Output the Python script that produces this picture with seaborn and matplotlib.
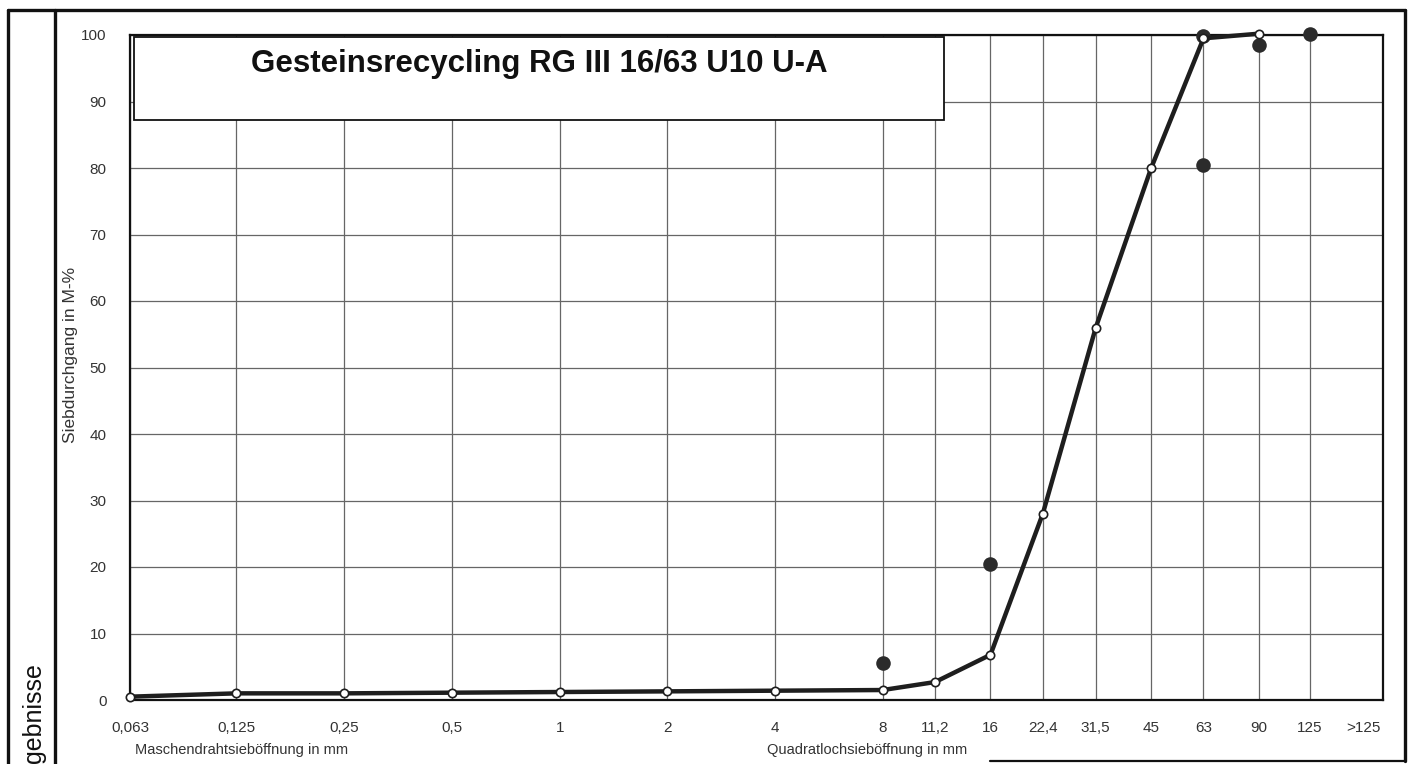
import numpy as np
import pandas as pd
import seaborn as sns
import matplotlib.pyplot as plt
from matplotlib.patches import Rectangle
from matplotlib.lines import Line2D
from matplotlib.ticker import NullLocator

# Siebweiten (mm) und Beschriftungen
sieve_sizes = [0.063, 0.125, 0.25, 0.5, 1, 2, 4, 8, 11.2, 16, 22.4, 31.5, 45, 63, 90, 125]
tick_labels = ['0,063', '0,125', '0,25', '0,5', '1', '2', '4', '8', '11,2', '16',
               '22,4', '31,5', '45', '63', '90', '125', '>125']

# Siebdurchgang in M-% (Sieblinie)
passing = [0.5, 1.0, 1.0, 1.1, 1.2, 1.3, 1.4, 1.5, 2.7, 6.8, 28, 56, 80, 99.5, 100.2]
passing_sizes = sieve_sizes[:15]

# Grenzwerte (schwarze Punkte)
limit_sizes = [8, 16, 63, 63, 90, 125]
limit_values = [5.5, 20.5, 80.5, 99.8, 98.5, 100.2]

W, H = 1412, 764

sns.set_style('white')
plt.rcParams['font.family'] = ['Liberation Sans', 'DejaVu Sans']

fig = plt.figure(figsize=(W / 100, H / 100), dpi=100)
ax = fig.add_axes([130 / W, 1 - 700 / H, (1383 - 130) / W, (700 - 35) / H])

curve = pd.DataFrame({'size': passing_sizes, 'pass': passing})
limits = pd.DataFrame({'size': limit_sizes, 'pass': limit_values})

ax.set_xscale('log', base=2)

sns.scatterplot(data=limits, x='size', y='pass', ax=ax, s=110, color='#2b2b2b',
                edgecolor='#2b2b2b', linewidth=0, zorder=4, clip_on=False)
sns.lineplot(data=curve, x='size', y='pass', ax=ax, color='#1e1e1e', linewidth=3.2,
             marker='o', markersize=6, markerfacecolor='white', markeredgecolor='#1e1e1e',
             markeredgewidth=1.2, zorder=5, clip_on=False)

# Achsen
tick_pos = sieve_sizes + [125 * 2 ** 0.5]
ax.set_xlim(0.063, 200)
ax.set_ylim(0, 100)
ax.set_xticks(tick_pos)
ax.set_xticklabels(tick_labels)
ax.xaxis.set_minor_locator(NullLocator())
ax.set_yticks(range(0, 101, 10))
ax.tick_params(axis='x', length=0, pad=15, labelsize=11, labelcolor='#333333')
ax.tick_params(axis='y', length=0, pad=17, labelsize=11, labelcolor='#333333')
ax.set_xlabel('')
ax.set_ylabel('')

ax.grid(True, color='#666666', linewidth=0.9)
ax.get_xgridlines()[-1].set_visible(False)
for sp in ax.spines.values():
    sp.set_color('#111111')
    sp.set_linewidth(1.6)

# Titelbox
ax.add_patch(Rectangle((0.003, 0.872), 0.647, 0.125, transform=ax.transAxes,
                       facecolor='white', edgecolor='#111111', linewidth=1.3, zorder=3))
ax.text(0.327, 0.944, 'Gesteinsrecycling RG III 16/63 U10 U-A', transform=ax.transAxes,
        ha='center', va='baseline', fontsize=22.5, fontweight='bold', color='#111111', zorder=6)

# Achsentitel
fig.text(71 / W, 1 - 355 / H, 'Siebdurchgang in M-%', rotation=90, ha='center', va='center',
         fontsize=12.5, color='#333333')
fig.text(135 / W, 1 - 750 / H, 'Maschendrahtsieböffnung in mm', ha='left', va='center',
         fontsize=10.5, color='#333333')
fig.text(767 / W, 1 - 750 / H, 'Quadratlochsieböffnung in mm', ha='left', va='center',
         fontsize=10.5, color='#333333')

# Rahmen
def fline(x0, y0, x1, y1, lw=2.4):
    fig.add_artist(Line2D([x0 / W, x1 / W], [1 - y0 / H, 1 - y1 / H], color='#111111',
                          linewidth=lw, transform=fig.transFigure))

fline(8, 10, 1405, 10)
fline(8, 10, 8, 764)
fline(55, 10, 55, 764)
fline(1405, 10, 1405, 761)
fline(990, 761, 1405, 761, lw=1.6)

fig.text(34 / W, 1 - 763 / H, 'gebnisse', rotation=90, ha='center', va='bottom',
         fontsize=18, color='#111111')

fig.savefig('out.png', dpi=100)
